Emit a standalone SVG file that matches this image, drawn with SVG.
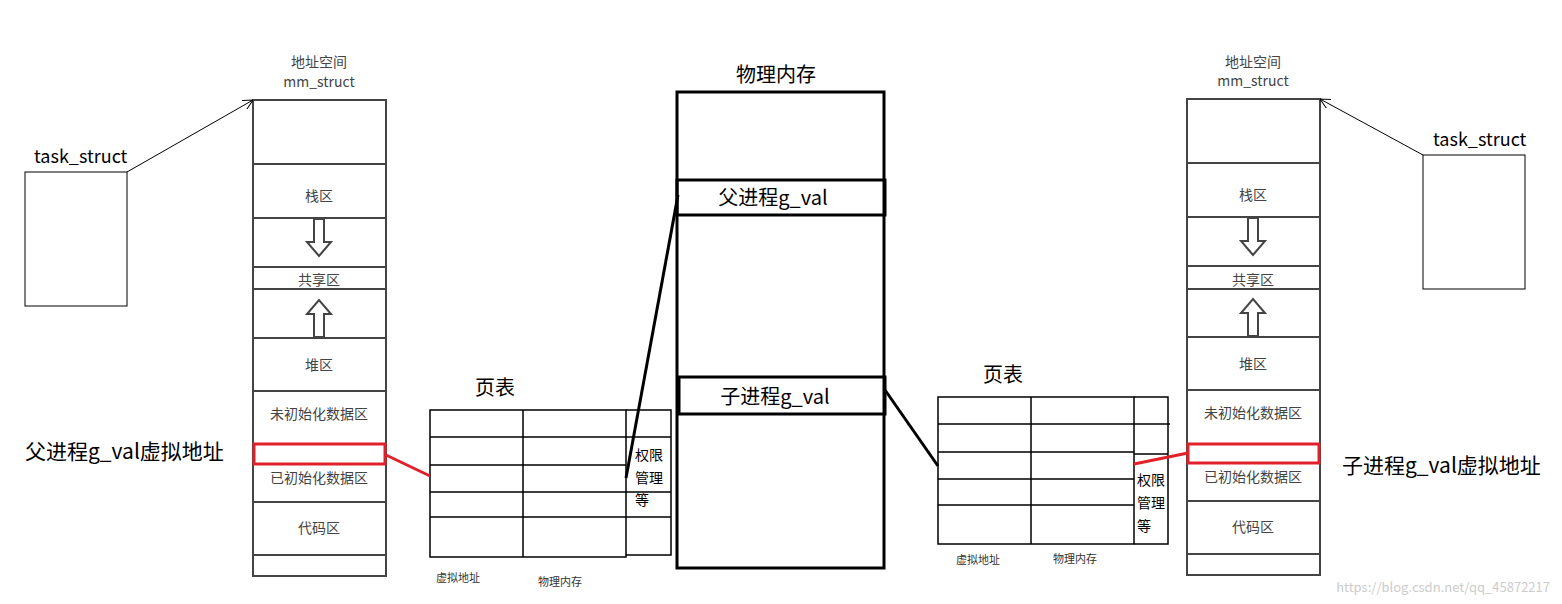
<svg xmlns="http://www.w3.org/2000/svg" width="1562" height="604" viewBox="0 0 1562 604">
<style>
text{font-family:"Microsoft YaHei","Noto Sans CJK SC",sans-serif}
.g{stroke:#444;stroke-width:2;fill:none}
.k{stroke:#000;stroke-width:1.5;fill:none}
.lbl{font-size:14px;fill:#444;text-anchor:middle}
.big{font-size:20px;fill:#000}
.ts{font-size:18px;fill:#000}
.huge{font-size:21px;fill:#000}
.sm{font-size:11px;fill:#333;text-anchor:middle}
.red{stroke:#e0202a;stroke-width:3;fill:none}
</style>
<defs><marker id="a" viewBox="0 0 10 10" refX="10" refY="5" markerWidth="10" markerHeight="10" orient="auto"><path d="M0,0L10,5L0,10" fill="none" stroke="#000"/></marker></defs>
<rect width="1562" height="604" fill="#fff"/>
<g id="task-left"><rect x="25" y="172" width="102" height="134" stroke="#000" fill="none"/><text x="34" y="163" class="ts">task_struct</text></g>
<g id="task-right"><rect x="1423" y="155" width="102" height="134" stroke="#000" fill="none"/><text x="1433" y="146" class="ts">task_struct</text></g>
<g id="mm-left">
<text x="319" y="67" class="lbl">地址空间</text><text x="319" y="87" class="lbl">mm_struct</text>
<rect x="253" y="100" width="133" height="476" class="g"/>
<path class="g" d="M253 164H386M253 218H386M253 267H386M253 289H386M253 338H386M253 391H386M253 502H386M253 555H386"/>
<text x="319" y="201" class="lbl">栈区</text>
<path class="g" d="M314 219V242H307L319 256L331 242H324V219Z"/>
<text x="319" y="285" class="lbl">共享区</text>
<path class="g" d="M314 337V314H307L319 300L331 314H324V337Z"/>
<text x="319" y="370" class="lbl">堆区</text>
<text x="319" y="419" class="lbl">未初始化数据区</text>
<rect x="254" y="444" width="131" height="20" class="red"/>
<text x="319" y="483" class="lbl">已初始化数据区</text>
<text x="319" y="533" class="lbl">代码区</text>
</g>
<g id="mm-right">
<text x="1253" y="67" class="lbl">地址空间</text><text x="1253" y="86" class="lbl">mm_struct</text>
<rect x="1187" y="99" width="133" height="476" class="g"/>
<path class="g" d="M1187 163H1320M1187 217H1320M1187 266H1320M1187 289H1320M1187 337H1320M1187 390H1320M1187 501H1320M1187 554H1320"/>
<text x="1253" y="200" class="lbl">栈区</text>
<path class="g" d="M1248 218V241H1241L1253 255L1265 241H1258V218Z"/>
<text x="1253" y="285" class="lbl">共享区</text>
<path class="g" d="M1248 336V313H1241L1253 299L1265 313H1258V336Z"/>
<text x="1253" y="369" class="lbl">堆区</text>
<text x="1253" y="418" class="lbl">未初始化数据区</text>
<rect x="1188" y="444" width="131" height="19" class="red"/>
<text x="1253" y="482" class="lbl">已初始化数据区</text>
<text x="1253" y="532" class="lbl">代码区</text>
</g>
<g id="phys">
<text x="776" y="82" class="big" text-anchor="middle">物理内存</text>
<rect x="677" y="92" width="207" height="476" stroke="#000" stroke-width="3" fill="none"/>
<rect x="677" y="180" width="208" height="35" stroke="#000" stroke-width="3" fill="none"/>
<text x="773" y="205" class="big" text-anchor="middle">父进程g_val</text>
<rect x="679" y="377" width="206" height="37" stroke="#000" stroke-width="3" fill="none"/>
<text x="775" y="404" class="big" text-anchor="middle">子进程g_val</text>
</g>
<g id="pt-left">
<text x="495" y="395" class="big" text-anchor="middle">页表</text>
<rect x="430" y="410" width="196" height="147" class="k"/>
<path class="k" d="M523 410V557M430 437H626M430 465H626M430 492H626M430 517H626M626 410H671V555H626M626 437H671M626 492H671M626 517H671"/>
<text x="635" y="460" font-size="14">权限</text><text x="635" y="483" font-size="14">管理</text><text x="635" y="505" font-size="14">等</text>
<text x="458" y="582" class="sm">虚拟地址</text><text x="560" y="586" class="sm">物理内存</text>
</g>
<g id="pt-right">
<text x="1003" y="382" class="big" text-anchor="middle">页表</text>
<rect x="938" y="397" width="196" height="147" class="k"/>
<path class="k" d="M1031 397V544M938 424H1170M938 452H1134M938 479H1134M938 505H1134M1134 397H1168V544H1134M1134 454H1168"/>
<text x="1137" y="485" font-size="14">权限</text><text x="1137" y="508" font-size="14">管理</text><text x="1137" y="531" font-size="14">等</text>
<text x="978" y="564" class="sm">虚拟地址</text><text x="1075" y="563" class="sm">物理内存</text>
</g>
<g id="labels">
<text x="25" y="459" class="huge">父进程g_val虚拟地址</text>
<text x="1342" y="473" class="huge">子进程g_val虚拟地址</text>
<text x="1550" y="592" font-size="13" fill="#ccc" text-anchor="end">https://blog.csdn.net/qq_45872217</text>
</g>
<g id="connectors">
<line x1="127" y1="172" x2="253" y2="100" stroke="#000" marker-end="url(#a)"/>
<line x1="1423" y1="155" x2="1320" y2="99" stroke="#000" marker-end="url(#a)"/>
<line x1="386" y1="455" x2="430" y2="476" class="red"/>
<line x1="626" y1="478" x2="678" y2="195" stroke="#000" stroke-width="3"/>
<line x1="885" y1="390" x2="938" y2="466" stroke="#000" stroke-width="3"/>
<line x1="1134" y1="464" x2="1188" y2="453" class="red"/>
</g>
</svg>
